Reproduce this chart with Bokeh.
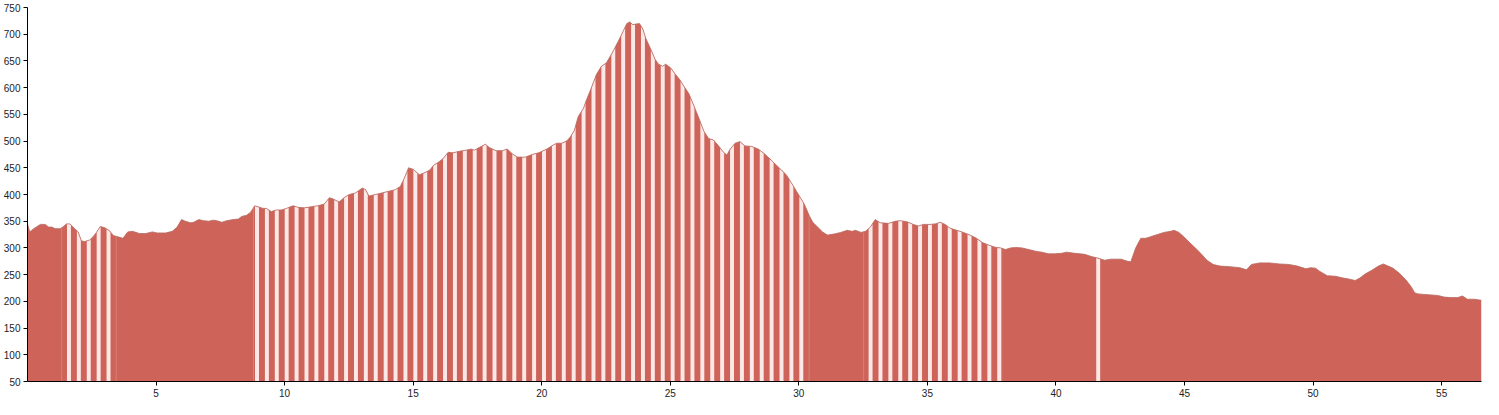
import numpy as np
from bokeh.plotting import figure
from bokeh.models import FixedTicker, Range1d
from bokeh.embed import file_html
from bokeh.resources import INLINE

# distance (km) and elevation (m) of the profile
km = [0.0, 0.09, 0.24, 0.5, 0.69, 0.82, 0.95, 1.07, 1.27, 1.37, 1.52, 1.65, 1.84, 1.97, 2.1, 2.23, 2.42,
      2.55, 2.68, 2.83, 3.0, 3.17, 3.35, 3.51, 3.71, 3.9, 4.09, 4.35, 4.6, 4.86, 5.05, 5.37, 5.63, 5.82,
      5.99, 6.14, 6.34, 6.46, 6.66, 6.85, 7.04, 7.23, 7.36, 7.56, 7.75, 8.0, 8.2, 8.33, 8.52, 8.68, 8.84,
      9.03, 9.16, 9.29, 9.48, 9.67, 9.87, 10.07, 10.33, 10.52, 10.77, 11.03, 11.29, 11.54, 11.74, 11.87,
      12.12, 12.31, 12.51, 12.76, 13.02, 13.15, 13.28, 13.53, 13.79, 14.05, 14.3, 14.5, 14.65, 14.82,
      15.01, 15.24, 15.46, 15.65, 15.8, 15.97, 16.16, 16.36, 16.55, 16.8, 17.06, 17.26, 17.38, 17.57,
      17.81, 17.96, 18.22, 18.47, 18.66, 18.86, 19.05, 19.37, 19.63, 19.88, 20.2, 20.46, 20.59, 20.78,
      20.97, 21.1, 21.26, 21.42, 21.62, 21.74, 21.94, 22.13, 22.32, 22.51, 22.67, 22.84, 23.0, 23.18,
      23.31, 23.42, 23.54, 23.8, 23.93, 24.05, 24.25, 24.41, 24.54, 24.7, 24.82, 25.01, 25.2, 25.4,
      25.47, 25.72, 25.91, 26.11, 26.3, 26.49, 26.68, 26.88, 27.07, 27.2, 27.33, 27.52, 27.71, 27.9,
      28.16, 28.42, 28.67, 28.93, 29.19, 29.51, 29.76, 30.02, 30.21, 30.4, 30.54, 30.73, 30.92, 31.11,
      31.37, 31.63, 31.88, 32.07, 32.2, 32.42, 32.59, 32.78, 32.97, 33.17, 33.49, 33.75, 33.94, 34.2,
      34.45, 34.65, 34.84, 35.1, 35.3, 35.5, 35.69, 35.88, 36.14, 36.4, 36.66, 36.91, 37.14, 37.4,
      37.66, 37.85, 38.04, 38.23, 38.43, 38.68, 38.94, 39.2, 39.45, 39.71, 39.96, 40.22, 40.41, 40.73,
      41.12, 41.37, 41.63, 41.89, 42.14, 42.53, 42.79, 42.91, 43.1, 43.3, 43.49, 43.68, 43.94, 44.2,
      44.45, 44.6, 44.78, 44.97, 45.22, 45.55, 45.87, 46.12, 46.38, 46.76, 47.15, 47.41, 47.6, 47.92,
      48.3, 48.69, 49.07, 49.39, 49.72, 49.91, 50.1, 50.23, 50.55, 50.87, 51.13, 51.38, 51.64, 51.83,
      52.02, 52.28, 52.54, 52.73, 52.92, 53.11, 53.37, 53.63, 53.82, 53.95, 54.08, 54.33, 54.59, 54.85,
      55.1, 55.36, 55.62, 55.81, 56.0, 56.26, 56.55]
elev = [345, 330, 336, 344, 344, 339, 339, 336, 336, 339, 345, 345, 336, 330, 313, 312, 315,
        321, 329, 340, 338, 333, 323, 321, 318, 330, 331, 327, 327, 330, 328, 328, 331, 339,
        353, 350, 347, 348, 353, 351, 350, 352, 351, 348, 351, 353, 354, 359, 361, 367, 379,
        376, 374, 374, 368, 371, 371, 374, 379, 376, 375, 377, 379, 382, 394, 392,
        386, 394, 400, 403, 412, 409, 397, 400, 403, 406, 409, 415, 430, 450,
        447, 437, 441, 446, 455, 460, 467, 479, 478, 481, 483, 485, 483, 488,
        494, 488, 482, 482, 485, 476, 470, 470, 475, 478, 485, 493, 496, 496,
        500, 507, 519, 546, 561, 577, 601, 625, 640, 646, 659, 674, 689, 707,
        720, 723, 718, 720, 710, 692, 671, 653, 644, 640, 644, 637, 625, 613,
        607, 589, 567, 543, 519, 505, 502, 491, 479, 474, 485, 496, 499, 491,
        490, 485, 476, 464, 452, 437, 418, 397, 382, 361, 348, 339, 330, 324,
        326, 329, 333, 331, 333, 329, 331, 339, 353, 347, 346, 350, 351, 349,
        344, 341, 344, 344, 345, 348, 344, 337, 333, 329, 324, 318, 310, 305,
        301, 300, 297, 300, 301, 300, 297, 294, 292, 289, 289, 290, 292, 290,
        288, 284, 281, 277, 279, 279, 275, 274, 300, 318, 318, 321, 325, 329,
        331, 333, 329, 321, 309, 294, 277, 269, 266, 265, 263, 259, 269, 272,
        272, 270, 269, 266, 261, 263, 262, 257, 248, 247, 244, 242, 239, 244,
        251, 258, 266, 270, 266, 262, 252, 239, 227, 216, 214, 213, 212, 211,
        208, 207, 207, 210, 204, 204, 202]

# highlighted (striped) sections of the route, km
zone_start = [1.33, 8.79, 32.52, 41.55]
zone_end = [3.45, 30.4, 37.89, 41.73]

x_ticks = [5, 10, 15, 20, 25, 30, 35, 40, 45, 50, 55]
y_ticks = [50, 100, 150, 200, 250, 300, 350, 400, 450, 500, 550, 600, 650, 700, 750]

RED = "#ce6459"
STRIPE = "#fce8e6"
BASE = 50

p = figure(width=1483, height=399, output_backend="svg", toolbar_location=None,
           x_range=Range1d(0, 56.55), y_range=Range1d(50, 750),
           min_border_top=7, min_border_right=2, min_border_left=0, min_border_bottom=0,
           background_fill_color="white", border_fill_color="white")
p.outline_line_color = None
p.xgrid.visible = False
p.ygrid.visible = False

p.varea(x=km, y1=[BASE] * len(km), y2=elev, fill_color=RED, fill_alpha=1.0)

# stripe pattern (period ~10px) inside the highlighted zones, clipped to the profile
period, phase, sw = 0.3849, 0.0731, 0.154
xs, ys = [], []
for zs, ze in zip(zone_start, zone_end):
    k0 = int(np.floor((zs - phase) / period)) - 1
    k1 = int(np.ceil((ze - phase) / period)) + 1
    for k in range(k0, k1 + 1):
        c = phase + period * k
        a, b = c - sw / 2, c + sw / 2
        if a >= zs - 0.01 and b <= ze + 0.01:
            pts = np.linspace(a, b, 4)
            tops = np.interp(pts, km, elev)
            xs.append([a] + list(pts) + [b])
            ys.append([BASE] + list(tops) + [BASE])
p.patches(xs=xs, ys=ys, fill_color=STRIPE, line_color=None)

# faint zone edge hairlines
ex, ey = [], []
for zs, ze in zip(zone_start[:3], zone_end[:3]):
    for e in (zs, ze):
        ex.append([e, e])
        ey.append([BASE, float(np.interp(e, km, elev))])
p.multi_line(xs=ex, ys=ey, line_color=STRIPE, line_width=0.6, line_alpha=0.35)

p.line(km, elev, line_color="#b8685f", line_width=0.8)

for ax in (p.xaxis[0], p.yaxis[0]):
    ax.axis_line_color = "black"
    ax.axis_line_width = 1
    ax.major_tick_line_color = "black"
    ax.major_tick_out = 4
    ax.major_tick_in = 0
    ax.minor_tick_line_color = None
    ax.major_label_text_font = "Liberation Sans"
    ax.major_label_text_font_size = "10px"
    ax.major_label_text_color = "#222222"
    ax.major_label_standoff = 3

p.xaxis.ticker = FixedTicker(ticks=x_ticks)
p.yaxis.ticker = FixedTicker(ticks=y_ticks)

open("out.html", "w").write(file_html(p, INLINE))
